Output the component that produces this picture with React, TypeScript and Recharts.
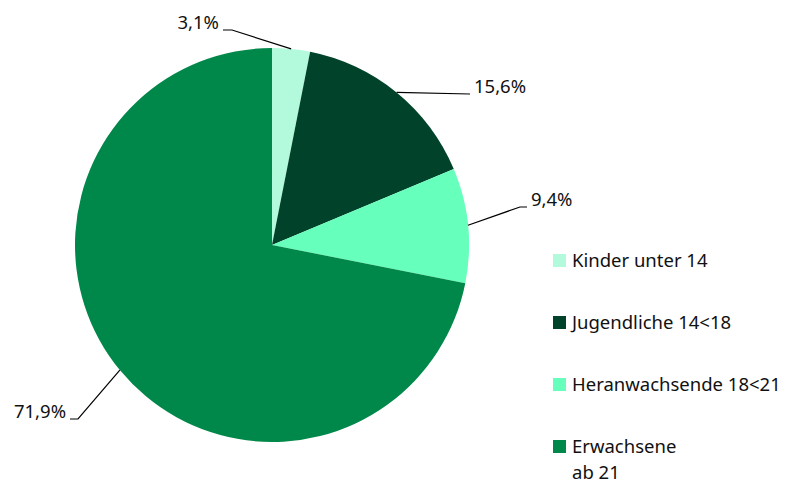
import React from 'react';
import { PieChart, Pie, Cell, Legend } from 'recharts';

const categories = ['Kinder unter 14', 'Jugendliche 14<18', 'Heranwachsende 18<21', 'Erwachsene ab 21'];
const legendLines = [['Kinder unter 14'], ['Jugendliche 14<18'], ['Heranwachsende 18<21'], ['Erwachsene', 'ab 21']];
const shares = [3.1, 15.6, 9.4, 71.9];
const valueLabels = ['3,1%', '15,6%', '9,4%', '71,9%'];
const colors = ['#b3f9dc', '#00432a', '#66ffbb', '#00884a'];

const data = categories.map((name, i) => ({ name, value: shares[i], label: valueLabels[i], color: colors[i] }));

// elbow offsets (relative to pie centre) and horizontal run for each leader line
const elbows = [
  { dx: -40, dy: -215, run: -9 },
  { dx: 198, dy: -151, run: 0 },
  { dx: 248, dy: -38, run: 7 },
  { dx: -194, dy: 174, run: -8 },
];

const FONT = '"Noto Sans", sans-serif';

const renderLabel = (props: any) => {
  const { cx, cy, midAngle, outerRadius, index } = props;
  const rad = Math.PI / 180;
  const sx = cx + outerRadius * Math.cos(-midAngle * rad);
  const sy = cy + outerRadius * Math.sin(-midAngle * rad);
  const e = elbows[index];
  const ex = cx + e.dx;
  const ey = cy + e.dy;
  const tx = ex + e.run;
  const left = e.dx < 0;
  return (
    <g key={`lbl-${index}`}>
      <polyline points={`${sx},${sy} ${ex},${ey} ${tx},${ey}`} fill="none" stroke="#000" strokeWidth={1.2} />
      <text
        x={tx + (left ? -4 : 4)}
        y={ey - 1}
        textAnchor={left ? 'end' : 'start'}
        fontFamily={FONT}
        fontSize={18.5}
        fill="#111"
      >
        {data[index].label}
      </text>
    </g>
  );
};

const CustomLegend = () => (
  <div style={{ fontFamily: FONT, fontSize: 18.5, color: '#111' }}>
    {legendLines.map((lines, i) => (
      <div key={i} style={{ display: 'flex', alignItems: 'flex-start', height: 62, lineHeight: '26px' }}>
        <div style={{ width: 13, height: 13, background: colors[i], marginTop: 7, marginRight: 6, flexShrink: 0 }} />
        <div>
          {lines.map((l, j) => (
            <div key={j}>{l}</div>
          ))}
        </div>
      </div>
    ))}
  </div>
);

export default function App() {
  return (
    <div style={{ position: 'absolute', left: 0, top: 0, background: '#fff' }}>
      <PieChart width={800} height={484} margin={{ top: 0, right: 0, bottom: 0, left: 0 }}>
        <Pie
          data={data}
          dataKey="value"
          nameKey="name"
          cx={272}
          cy={245}
          outerRadius={197}
          startAngle={90}
          endAngle={-270}
          stroke="none"
          label={renderLabel}
          labelLine={false}
          isAnimationActive={false}
        >
          {data.map((d, i) => (
            <Cell key={i} fill={d.color} />
          ))}
        </Pie>
        <Legend
          content={<CustomLegend />}
          wrapperStyle={{ position: 'absolute', left: 553, top: 247, width: 240 }}
        />
      </PieChart>
    </div>
  );
}
